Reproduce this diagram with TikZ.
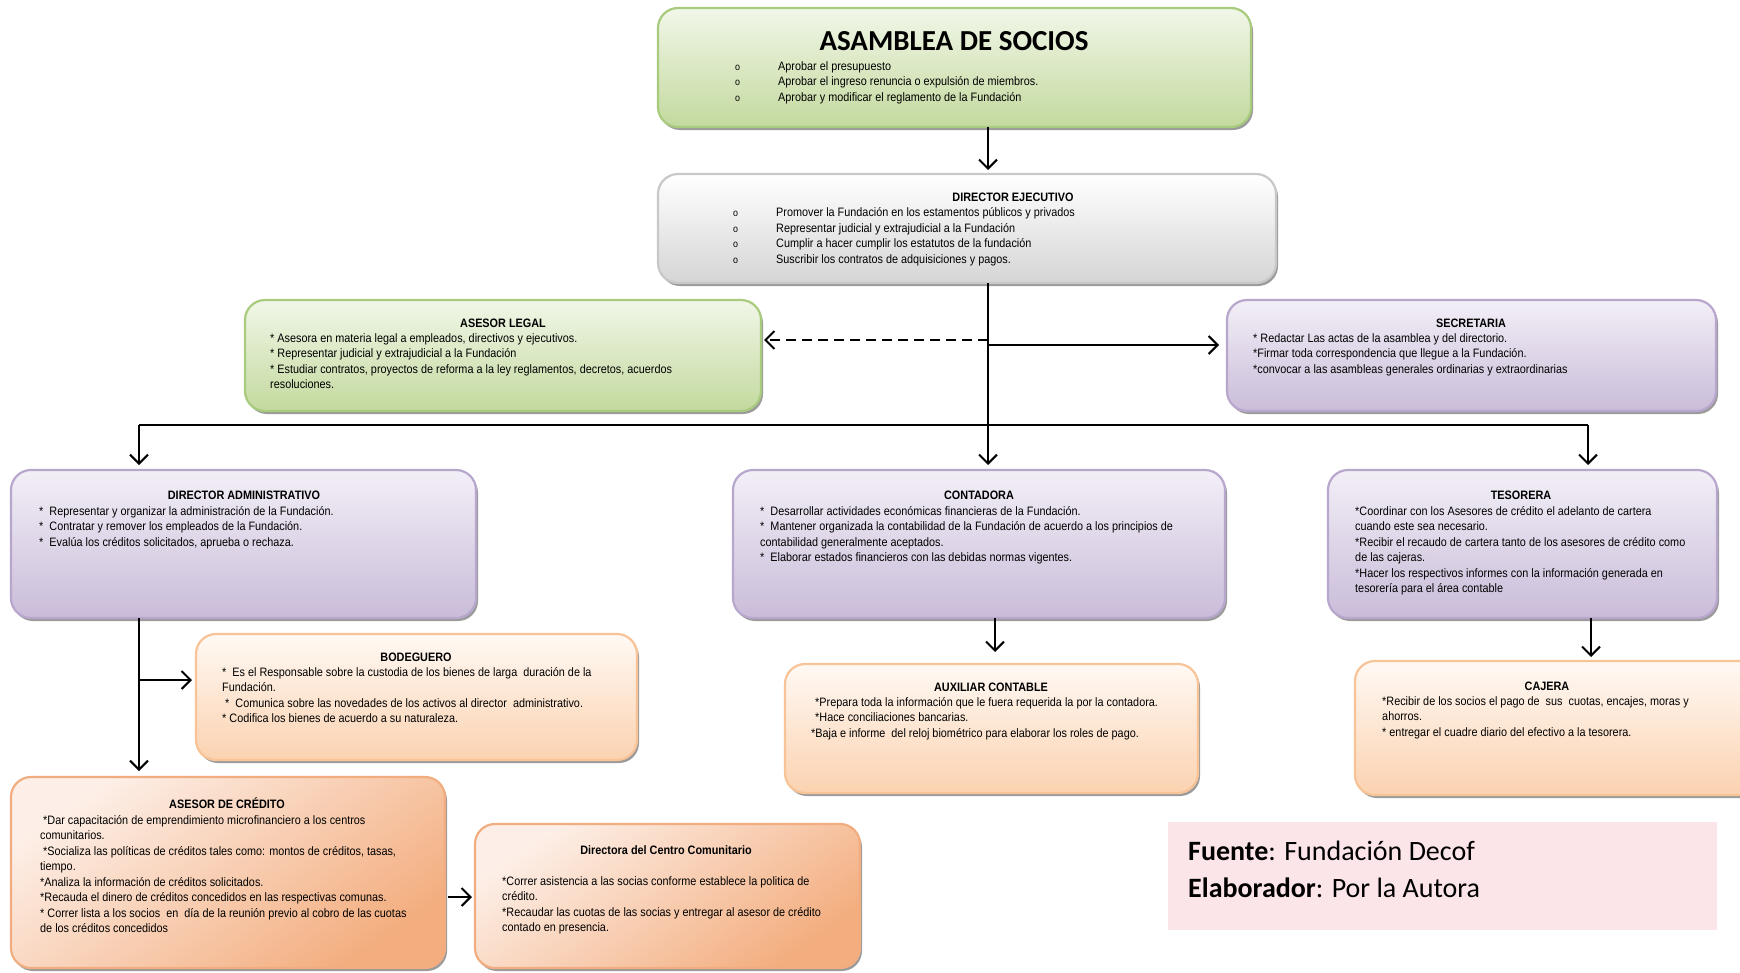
\documentclass[tikz,border=0pt]{standalone}
\usepackage{fontspec}
\setmainfont{Liberation Sans}[FakeStretch=0.89]
\newfontfamily\calfont{Carlito}
\usetikzlibrary{shadows,arrows.meta}

% box palettes: border, top fill, bottom fill
\definecolor{grnD}{HTML}{A9CB7E}
\definecolor{grnT}{HTML}{F1F7E8}
\definecolor{grnB}{HTML}{C3D99E}
\definecolor{gryD}{HTML}{C8C8C8}
\definecolor{gryT}{HTML}{FFFFFF}
\definecolor{gryB}{HTML}{D5D5D5}
\definecolor{purD}{HTML}{B8A7CD}
\definecolor{purT}{HTML}{F3EFF7}
\definecolor{purB}{HTML}{C9BCD9}
\definecolor{orgD}{HTML}{F8C397}
\definecolor{orgT}{HTML}{FFF9F4}
\definecolor{orgB}{HTML}{FBD2B0}
\definecolor{ornD}{HTML}{F1AD80}
\definecolor{ornT}{HTML}{FDEFE7}
\definecolor{ornB}{HTML}{F3AD7E}
\definecolor{pinkbg}{HTML}{FCE5E9}

\newcommand\bodysize{\fontsize{12.2pt}{15.5pt}\selectfont}
\newcommand\bul{\makebox[43pt][l]{\fontsize{10pt}{15.5pt}\selectfont o}}

\tikzset{
  orgbox/.style={rounded corners=20pt, line width=2.2pt, inner sep=0pt, outer sep=0pt,
    drop shadow={shadow xshift=2pt, shadow yshift=-3pt, fill=black!60, opacity=0.65}},
  greenbox/.style={orgbox, draw=grnD, top color=grnT, bottom color=grnB},
  greybox/.style={orgbox, draw=gryD, top color=gryT, bottom color=gryB},
  purplebox/.style={orgbox, draw=purD, top color=purT, bottom color=purB},
  peachbox/.style={orgbox, draw=orgD, top color=orgT, bottom color=orgB},
  orangebox/.style={orgbox, draw=ornD, top color=ornT, bottom color=ornB, shading angle=35},
  title/.style={font=\bfseries\bodysize, inner sep=0pt, anchor=base},
  body/.style={font=\bodysize, inner sep=0pt, anchor=north west, align=left,
    execute at begin node={\rule{0pt}{10pt}}},
  arr/.style={line width=2pt, -{Straight Barb[length=9pt, width=18pt, line width=2pt]}},
}

\begin{document}
\begin{tikzpicture}[x=1pt,y=-1pt]
\useasboundingbox (0,0) rectangle (1740,972);
\clip (0,0) rectangle (1740,972);
\fill[white] (0,0) rectangle (1740,972);

% ---- boxes ----
\node[greenbox, minimum width=593pt, minimum height=119pt] (asam) at (954.5,67.5) {};
\node[greybox, minimum width=618pt, minimum height=109pt] (dire) at (967,228.5) {};
\node[greenbox, minimum width=516pt, minimum height=111pt] (legal) at (503,355.5) {};
\node[purplebox, minimum width=489pt, minimum height=111pt] (secr) at (1471.5,355.5) {};
\node[purplebox, minimum width=465pt, minimum height=148pt] (dadm) at (243.5,544) {};
\node[purplebox, minimum width=492pt, minimum height=148pt] (cont) at (979,544) {};
\node[purplebox, minimum width=389pt, minimum height=148pt] (teso) at (1522.5,544) {};
\node[peachbox, minimum width=441pt, minimum height=126pt] (bode) at (416.5,697) {};
\node[peachbox, minimum width=413pt, minimum height=129pt] (auxc) at (991.5,728.5) {};
\node[peachbox, minimum width=420pt, minimum height=134pt] (caje) at (1565,728) {};
\node[orangebox, minimum width=434pt, minimum height=191pt] (acre) at (228,872.5) {};
\node[orangebox, minimum width=385pt, minimum height=144pt] (dcc) at (667.5,896) {};
\node[fill=pinkbg, inner sep=0pt, minimum width=549pt, minimum height=108pt] (src) at (1442.5,876) {};

% ---- texts ----
\node[font=\calfont\bfseries\fontsize{29pt}{33pt}\selectfont, inner sep=0pt, anchor=base] (asamT) at (954,50.5) {ASAMBLEA DE SOCIOS};
\node[body] (asamL) at (735,61.3) {\bul Aprobar el presupuesto\\
\bul Aprobar el ingreso renuncia o expulsión de miembros.\\
\bul Aprobar y modificar el reglamento de la Fundación};

\node[title] (direT) at (1013,201.5) {DIRECTOR EJECUTIVO};
\node[body] (direL) at (733,207.8) {\bul Promover la Fundación en los estamentos públicos y privados\\
\bul Representar judicial y extrajudicial a la Fundación\\
\bul Cumplir a hacer cumplir los estatutos de la fundación\\
\bul Suscribir los contratos de adquisiciones y pagos.};

\node[title] (legalT) at (503,327.5) {ASESOR LEGAL};
\node[body] (legalL) at (270,333.3) {* Asesora en materia legal a empleados, directivos y ejecutivos.\\
* Representar judicial y extrajudicial a la Fundación\\
* Estudiar contratos, proyectos de reforma a la ley reglamentos, decretos, acuerdos\\
resoluciones.};

\node[title] (secrT) at (1471,327.5) {SECRETARIA};
\node[body] (secrL) at (1253,333.3) {* Redactar Las actas de la asamblea y del directorio.\\
*Firmar toda correspondencia que llegue a la Fundación.\\
*convocar a las asambleas generales ordinarias y extraordinarias};

\node[title] (dadmT) at (244,499.5) {DIRECTOR ADMINISTRATIVO};
\node[body] (dadmL) at (39,506.3) {*~ Representar y organizar la administración de la Fundación.\\
*~ Contratar y remover los empleados de la Fundación.\\
*~ Evalúa los créditos solicitados, aprueba o rechaza.};

\node[title] (contT) at (979,499.5) {CONTADORA};
\node[body] (contL) at (760,506.3) {*~ Desarrollar actividades económicas financieras de la Fundación.\\
*~ Mantener organizada la contabilidad de la Fundación de acuerdo a los principios de\\
contabilidad generalmente aceptados.\\
*~ Elaborar estados financieros con las debidas normas vigentes.};

\node[title] (tesoT) at (1521,499.5) {TESORERA};
\node[body] (tesoL) at (1355,506.3) {*Coordinar con los Asesores de crédito el adelanto de cartera\\
cuando este sea necesario.\\
*Recibir el recaudo de cartera tanto de los asesores de crédito como\\
de las cajeras.\\
*Hacer los respectivos informes con la información generada en\\
tesorería para el área contable};

\node[title] (bodeT) at (416,661.5) {BODEGUERO};
\node[body] (bodeL) at (222,667.3) {*~ Es el Responsable sobre la custodia de los bienes de larga~ duración de la\\
Fundación.\\
\hspace{3pt}*~ Comunica sobre las novedades de los activos al director~ administrativo.\\
* Codifica los bienes de acuerdo a su naturaleza.};

\node[title] (auxcT) at (991,691.5) {AUXILIAR CONTABLE};
\node[body] (auxcL) at (811,697.3) {\hspace{4pt}*Prepara toda la información que le fuera requerida la por la contadora.\\
\hspace{4pt}*Hace conciliaciones bancarias.\\
*Baja e informe~ del reloj biométrico para elaborar los roles de pago.};

\node[title] (cajeT) at (1547,690.5) {CAJERA};
\node[body] (cajeL) at (1382,696.3) {*Recibir de los socios el pago de~ sus~ cuotas, encajes, moras y\\
ahorros.\\
* entregar el cuadre diario del efectivo a la tesorera.};

\node[title] (acreT) at (227,808.5) {ASESOR DE CRÉDITO};
\node[body] (acreL) at (40,815.3) {\hspace{3pt}*Dar capacitación de emprendimiento microfinanciero a los centros\\
comunitarios.\\
\hspace{3pt}*Socializa las políticas de créditos tales como: montos de créditos, tasas,\\
tiempo.\\
*Analiza la información de créditos solicitados.\\
*Recauda el dinero de créditos concedidos en las respectivas comunas.\\
* Correr lista a los socios~ en~ día de la reunión previo al cobro de las cuotas\\
de los créditos concedidos};

\node[title] (dccT) at (666,854.5) {Directora del Centro Comunitario};
\node[body] (dccL) at (502,876.3) {*Correr asistencia a las socias conforme establece la politica de\\
crédito.\\
*Recaudar las cuotas de las socias y entregar al asesor de crédito\\
contado en presencia.};

\node[font=\calfont\fontsize{28pt}{37pt}\selectfont, inner sep=0pt, anchor=north west, align=left,
  execute at begin node={\rule{0pt}{22pt}}] (srcL) at (1188,840.5) {\textbf{Fuente}: Fundación Decof\\
\textbf{Elaborador}: Por la Autora};

% ---- connectors ----
\coordinate (tx) at (988,0);
\coordinate (busL) at (139,425);
\coordinate (busR) at (1588,425);
\coordinate (auxX) at (995,0);
\coordinate (cajX) at (1591,0);
\coordinate (legY) at (0,340);
\coordinate (secY) at (0,345);
\coordinate (bodY) at (0,680);
\coordinate (dccY) at (0,897);

\draw[arr, shorten >=4pt] (asam.south -| tx) -- (dire.north -| tx);
\draw[arr, shorten >=5pt] (dire.south -| tx) -- (cont.north -| tx);
\draw[arr, dash pattern=on 10pt off 6pt] (tx |- legY) -- ([xshift=3pt]legal.east |- legY);
\draw[arr, shorten >=8pt] (tx |- secY) -- (secr.west |- secY);
\draw[line width=2pt] (busL) -- (busR);
\draw[arr, shorten >=5pt] (busL) -- (busL |- dadm.north);
\draw[arr, shorten >=5pt] (busR) -- (busR |- teso.north);
\draw[arr, shorten >=6pt] (busL |- dadm.south) -- (busL |- acre.north);
\draw[arr, shorten >=4pt] (busL |- bodY) -- (bode.west |- bodY);
\draw[arr, shorten >=12pt] (auxX |- cont.south) -- (auxX |- auxc.north);
\draw[arr, shorten >=4pt] (cajX |- teso.south) -- (cajX |- caje.north);
\draw[arr, shorten <=3pt, shorten >=3pt] (acre.east |- dccY) -- (dcc.west |- dccY);
\end{tikzpicture}
\end{document}
